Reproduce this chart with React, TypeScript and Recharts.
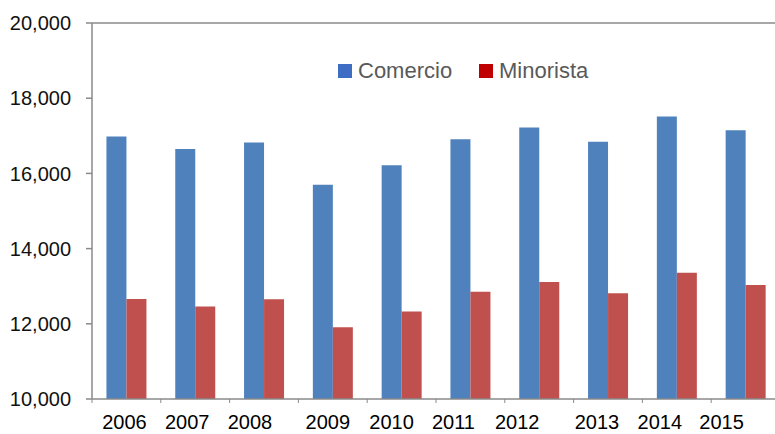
import React from "react";
import { BarChart, Bar, XAxis, YAxis, ReferenceLine } from "recharts";

const years = ["2006", "2007", "2008", "2009", "2010", "2011", "2012", "2013", "2014", "2015"];
const comercio = [16980, 16650, 16820, 15700, 16220, 16910, 17220, 16840, 17510, 17150];
const minorista = [12660, 12460, 12650, 11910, 12330, 12850, 13110, 12810, 13360, 13030];
const yTicks = [10000, 12000, 14000, 16000, 18000, 20000];

// labels in the original sit a little left of the category centres
const labelShift = [-2, -8, -14, -5, -10, -17, -22, -11, -17, -24];

const BLUE = "#4F81BD";
const RED = "#C0504D";
const AXIS = "#8a8a8a";

const data = years.map((y, i) => ({ year: y, Comercio: comercio[i], Minorista: minorista[i] }));

const YearTick = (props: any) => {
  const { x, y, payload, index } = props;
  const half = payload && payload.offset ? payload.offset : 34.4;
  const bx = x - half;
  return (
    <g>
      <line x1={bx} y1={y} x2={bx} y2={y + 4} stroke={AXIS} strokeWidth={1} />
      <text
        x={x + (labelShift[index] || 0)}
        y={y + 30}
        textAnchor="middle"
        fill="#000"
        fontSize={20}
        fontFamily="'Liberation Sans', Arial, sans-serif"
      >
        {payload.value}
      </text>
    </g>
  );
};

const legendItems = [
  { name: "Comercio", color: "#3E6DC3", left: 338 },
  { name: "Minorista", color: "#C00000", left: 479 },
];

const App = () => {
  return (
    <div style={{ position: "absolute", top: 0, left: 0, width: 775, height: 434, overflow: "hidden", background: "#fff" }}>
      <BarChart
        width={780}
        height={434}
        data={data}
        margin={{ top: 23, right: 0, bottom: 0, left: 0 }}
        barCategoryGap="21%"
        barGap={0}
      >
        <ReferenceLine y={20000} stroke={AXIS} strokeWidth={1.5} />
        <XAxis
          dataKey="year"
          height={35}
          tickLine={false}
          tickSize={0}
          tickMargin={0}
          axisLine={{ stroke: AXIS, strokeWidth: 1.5 }}
          tick={<YearTick />}
          interval={0}
        />
        <YAxis
          width={92}
          domain={[10000, 20000]}
          ticks={yTicks}
          tickSize={6}
          tickMargin={15}
          axisLine={{ stroke: AXIS, strokeWidth: 1.5 }}
          tickLine={{ stroke: AXIS, strokeWidth: 1.5 }}
          tickFormatter={(v: number) => v.toLocaleString("en-US")}
          tick={{ fill: "#111", fontSize: 20, fontFamily: "'Liberation Sans', Arial, sans-serif" }}
        />
        <Bar dataKey="Comercio" fill={BLUE} isAnimationActive={false} />
        <Bar dataKey="Minorista" fill={RED} isAnimationActive={false} />
      </BarChart>
      {legendItems.map((it) => (
        <div
          key={it.name}
          style={{
            position: "absolute",
            top: 60,
            left: it.left,
            display: "flex",
            alignItems: "center",
            fontFamily: "'Liberation Sans', Arial, sans-serif",
            fontSize: 22,
            lineHeight: "22px",
            color: "#595959",
          }}
        >
          <span style={{ display: "inline-block", width: 14, height: 14, background: it.color, marginRight: 6 }} />
          <span>{it.name}</span>
        </div>
      ))}
    </div>
  );
};

export default App;
